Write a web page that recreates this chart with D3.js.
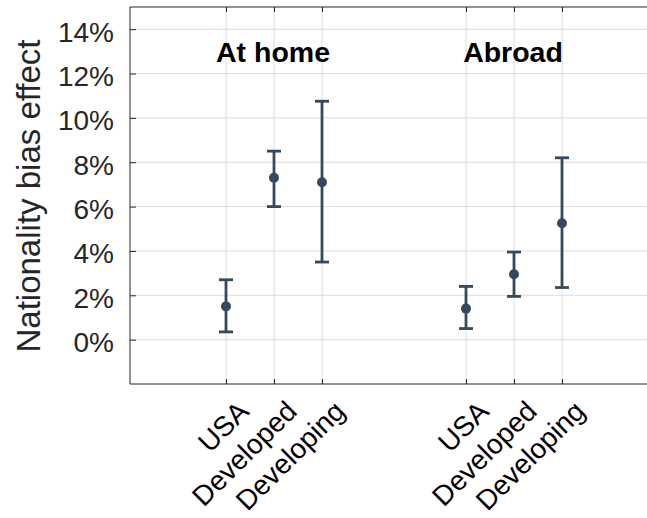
<!DOCTYPE html>
<html>
<head>
<meta charset="utf-8">
<script src="https://cdn.jsdelivr.net/npm/d3@7"></script>
<style>
  body { margin: 0; background: #fff; }
  text { font-family: "Liberation Sans", Arial, Helvetica, sans-serif; }
</style>
</head>
<body>
<script>
// Nationality bias effect with confidence intervals, by origin group
const groups = ["At home", "Abroad"];
const categories = ["USA", "Developed", "Developing"];

const homeEffect = [1.5, 7.3, 7.1];
const homeLow    = [0.35, 6.0, 3.5];
const homeHigh   = [2.7, 8.5, 10.75];

const abroadEffect = [1.4, 2.95, 5.25];
const abroadLow    = [0.5, 1.95, 2.35];
const abroadHigh   = [2.4, 3.95, 8.2];

const yTicks = [0, 2, 4, 6, 8, 10, 12, 14];

const W = 647, H = 518;
const margin = { left: 130, top: 7, bottom: 384 };
const color = "#34495e";
const axisColor = "#262626";

// Build rows: each group occupies three consecutive slots, groups separated by a gap
const rows = [];
[[homeEffect, homeLow, homeHigh], [abroadEffect, abroadLow, abroadHigh]].forEach(([eff, lo, hi], g) => {
  categories.forEach((c, i) => {
    rows.push({ group: groups[g], g, cat: c, slot: 3 + g * 5 + i, v: eff[i], lo: lo[i], hi: hi[i] });
  });
});

const x = d3.scaleLinear().domain([1, 12]).range([margin.left, margin.left + 11 * 48]);
const y = d3.scaleLinear().domain([-2, 15]).range([margin.bottom, margin.top]);

const svg = d3.select("body").append("svg").attr("width", W).attr("height", H);

const plot = svg.append("g");

// Grid
plot.append("g").selectAll("line").data(yTicks).join("line")
  .attr("x1", margin.left).attr("x2", x(12))
  .attr("y1", d => y(d)).attr("y2", d => y(d))
  .attr("stroke", "#dcdcdc").attr("stroke-width", 1);
plot.append("g").selectAll("line").data(rows).join("line")
  .attr("x1", d => x(d.slot)).attr("x2", d => x(d.slot))
  .attr("y1", margin.top).attr("y2", margin.bottom)
  .attr("stroke", "#dcdcdc").attr("stroke-width", 1);

// Axes (box style: left, bottom, top with inward ticks)
const leftAxis = d3.axisLeft(y).tickValues(yTicks).tickSize(-6).tickPadding(0).tickFormat(d => d + "%");
const gl = svg.append("g").attr("transform", `translate(${margin.left},0)`).call(leftAxis);
gl.select(".domain").attr("d", `M0,${margin.top}V${margin.bottom}`).attr("stroke", axisColor);
gl.selectAll(".tick line").attr("stroke", axisColor);
gl.selectAll(".tick text").attr("x", -16).attr("dy", 12)
  .attr("font-size", 28).attr("fill", axisColor).attr("font-family", "Liberation Sans, Arial, sans-serif");

const bottomAxis = d3.axisBottom(x).tickValues(rows.map(d => d.slot)).tickSize(-5).tickFormat((d, i) => rows[i].cat);
const gb = svg.append("g").attr("transform", `translate(0,${margin.bottom})`).call(bottomAxis);
gb.select(".domain").attr("d", `M${margin.left},0H${x(12)}`).attr("stroke", axisColor);
gb.selectAll(".tick line").attr("stroke", axisColor);
gb.selectAll(".tick text")
  .attr("text-anchor", "end").attr("dy", 0).attr("y", 0)
  .attr("transform", "translate(24,29) rotate(-45)")
  .attr("font-size", 28).attr("fill", "#000").attr("font-family", "Liberation Sans, Arial, sans-serif");

const topAxis = d3.axisTop(x).tickValues(rows.map(d => d.slot)).tickSize(-5).tickFormat("");
const gt = svg.append("g").attr("transform", `translate(0,${margin.top})`).call(topAxis);
gt.select(".domain").attr("d", `M${margin.left},0H${x(12)}`).attr("stroke", axisColor);
gt.selectAll(".tick line").attr("stroke", axisColor);

// Group titles centred over the middle category
svg.append("g").selectAll("text").data(groups).join("text")
  .attr("x", (d, g) => x(3 + g * 5 + 1) - 1).attr("y", 62)
  .attr("text-anchor", "middle").attr("font-weight", "bold").attr("font-size", 28.5)
  .attr("fill", "#000").text(d => d);

// Error bars
const cap = 7;
const eb = svg.append("g").attr("stroke", color).attr("stroke-width", 2.8);
eb.selectAll(".stem").data(rows).join("line").attr("class", "stem")
  .attr("x1", d => x(d.slot)).attr("x2", d => x(d.slot))
  .attr("y1", d => y(d.lo)).attr("y2", d => y(d.hi));
eb.selectAll(".capHi").data(rows).join("line").attr("class", "capHi")
  .attr("x1", d => x(d.slot) - cap).attr("x2", d => x(d.slot) + cap)
  .attr("y1", d => y(d.hi)).attr("y2", d => y(d.hi));
eb.selectAll(".capLo").data(rows).join("line").attr("class", "capLo")
  .attr("x1", d => x(d.slot) - cap).attr("x2", d => x(d.slot) + cap)
  .attr("y1", d => y(d.lo)).attr("y2", d => y(d.lo));

svg.append("g").selectAll("circle").data(rows).join("circle")
  .attr("cx", d => x(d.slot)).attr("cy", d => y(d.v)).attr("r", 5).attr("fill", color);

// Y axis title
svg.append("text")
  .attr("transform", `translate(40,196) rotate(-90)`)
  .attr("text-anchor", "middle").attr("font-size", 33).attr("fill", axisColor)
  .text("Nationality bias effect");
</script>
</body>
</html>
